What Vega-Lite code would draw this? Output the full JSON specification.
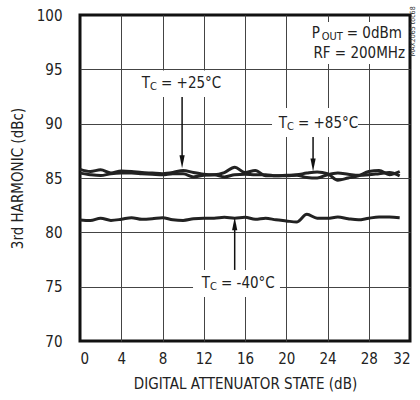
{
  "$schema": "https://vega.github.io/schema/vega-lite/v6.json",
  "width": 330,
  "height": 326,
  "autosize": {"type": "none"},
  "padding": {"left": 80, "top": 15, "right": 10, "bottom": 59},
  "background": "white",
  "config": {
    "view": {"stroke": "#111", "strokeWidth": 3},
    "font": "DejaVu Sans Condensed, Roboto, sans-serif",
    "text": {"font": "DejaVu Sans Condensed, Roboto, sans-serif"},
    "axis": {
      "labelFont": "DejaVu Sans Condensed, Roboto, sans-serif",
      "titleFont": "DejaVu Sans Condensed, Roboto, sans-serif",
      "labelFontSize": 15,
      "titleFontSize": 15,
      "titleFontWeight": "normal",
      "labelColor": "#222",
      "titleColor": "#222",
      "ticks": false,
      "domain": false,
      "gridOpacity": 1,
      "gridWidth": 1
    }
  },
  "datasets": {
    "curves": [
      {"x": 0, "y": 85.8, "s": "A"}, {"x": 1, "y": 85.6, "s": "A"}, {"x": 2, "y": 85.75, "s": "A"}, {"x": 3, "y": 85.45, "s": "A"},
      {"x": 4, "y": 85.65, "s": "A"}, {"x": 5, "y": 85.6, "s": "A"}, {"x": 6, "y": 85.5, "s": "A"}, {"x": 7, "y": 85.45, "s": "A"},
      {"x": 8, "y": 85.4, "s": "A"}, {"x": 9, "y": 85.5, "s": "A"}, {"x": 10, "y": 85.7, "s": "A"}, {"x": 11, "y": 85.5, "s": "A"},
      {"x": 12, "y": 85.35, "s": "A"}, {"x": 13, "y": 85.3, "s": "A"}, {"x": 14, "y": 85.5, "s": "A"}, {"x": 15, "y": 86.0, "s": "A"},
      {"x": 16, "y": 85.5, "s": "A"}, {"x": 17, "y": 85.7, "s": "A"}, {"x": 18, "y": 85.2, "s": "A"}, {"x": 19, "y": 85.2, "s": "A"},
      {"x": 20, "y": 85.25, "s": "A"}, {"x": 21, "y": 85.3, "s": "A"}, {"x": 22, "y": 85.45, "s": "A"}, {"x": 23, "y": 85.55, "s": "A"},
      {"x": 24, "y": 85.4, "s": "A"}, {"x": 25, "y": 84.8, "s": "A"}, {"x": 26, "y": 85.0, "s": "A"}, {"x": 27, "y": 85.2, "s": "A"},
      {"x": 28, "y": 85.6, "s": "A"}, {"x": 29, "y": 85.7, "s": "A"}, {"x": 30, "y": 85.3, "s": "A"}, {"x": 31, "y": 85.6, "s": "A"},
      {"x": 0, "y": 85.45, "s": "B"}, {"x": 1, "y": 85.3, "s": "B"}, {"x": 2, "y": 85.22, "s": "B"}, {"x": 3, "y": 85.4, "s": "B"},
      {"x": 4, "y": 85.45, "s": "B"}, {"x": 5, "y": 85.45, "s": "B"}, {"x": 6, "y": 85.4, "s": "B"}, {"x": 7, "y": 85.35, "s": "B"},
      {"x": 8, "y": 85.3, "s": "B"}, {"x": 9, "y": 85.4, "s": "B"}, {"x": 10, "y": 85.4, "s": "B"}, {"x": 11, "y": 85.1, "s": "B"},
      {"x": 12, "y": 85.25, "s": "B"}, {"x": 13, "y": 85.3, "s": "B"}, {"x": 14, "y": 85.1, "s": "B"}, {"x": 15, "y": 85.3, "s": "B"},
      {"x": 16, "y": 85.35, "s": "B"}, {"x": 17, "y": 85.3, "s": "B"}, {"x": 18, "y": 85.3, "s": "B"}, {"x": 19, "y": 85.2, "s": "B"},
      {"x": 20, "y": 85.2, "s": "B"}, {"x": 21, "y": 85.25, "s": "B"}, {"x": 22, "y": 85.05, "s": "B"}, {"x": 23, "y": 85.0, "s": "B"},
      {"x": 24, "y": 85.3, "s": "B"}, {"x": 25, "y": 85.45, "s": "B"}, {"x": 26, "y": 85.35, "s": "B"}, {"x": 27, "y": 85.25, "s": "B"},
      {"x": 28, "y": 85.3, "s": "B"}, {"x": 29, "y": 85.4, "s": "B"}, {"x": 30, "y": 85.5, "s": "B"}, {"x": 31, "y": 85.2, "s": "B"},
      {"x": 0, "y": 81.14, "s": "C"}, {"x": 1, "y": 81.08, "s": "C"}, {"x": 2, "y": 81.3, "s": "C"}, {"x": 3, "y": 81.1, "s": "C"},
      {"x": 4, "y": 81.2, "s": "C"}, {"x": 5, "y": 81.35, "s": "C"}, {"x": 6, "y": 81.2, "s": "C"}, {"x": 7, "y": 81.25, "s": "C"},
      {"x": 8, "y": 81.35, "s": "C"}, {"x": 9, "y": 81.15, "s": "C"}, {"x": 10, "y": 81.1, "s": "C"}, {"x": 11, "y": 81.25, "s": "C"},
      {"x": 12, "y": 81.3, "s": "C"}, {"x": 13, "y": 81.3, "s": "C"}, {"x": 14, "y": 81.38, "s": "C"}, {"x": 15, "y": 81.3, "s": "C"},
      {"x": 16, "y": 81.38, "s": "C"}, {"x": 17, "y": 81.2, "s": "C"}, {"x": 18, "y": 81.3, "s": "C"}, {"x": 19, "y": 81.15, "s": "C"},
      {"x": 20, "y": 81.05, "s": "C"}, {"x": 21, "y": 80.95, "s": "C"}, {"x": 22, "y": 81.66, "s": "C"}, {"x": 23, "y": 81.3, "s": "C"},
      {"x": 24, "y": 81.3, "s": "C"}, {"x": 25, "y": 81.4, "s": "C"}, {"x": 26, "y": 81.25, "s": "C"}, {"x": 27, "y": 81.15, "s": "C"},
      {"x": 28, "y": 81.3, "s": "C"}, {"x": 29, "y": 81.4, "s": "C"}, {"x": 30, "y": 81.4, "s": "C"}, {"x": 31, "y": 81.35, "s": "C"}
    ],
    "boxes": [
      {"x": 5.33, "x2": 13.96, "y": 94.9, "y2": 92.46},
      {"x": 18.62, "x2": 26.96, "y": 91.44, "y2": 88.78},
      {"x": 10.96, "x2": 19.39, "y": 76.54, "y2": 74.05},
      {"x": 21.8, "x2": 31.8, "y": 99.36, "y2": 95.5}
    ],
    "arrows": [
      {"x": 9.9, "y": 92.46, "y2": 86.8},
      {"x": 22.6, "y": 88.78, "y2": 86.5},
      {"x": 15.0, "y": 80.5, "y2": 76.54}
    ],
    "headsDown": [
      {"x": 9.9, "y": 86.5},
      {"x": 22.6, "y": 86.2}
    ],
    "headsUp": [
      {"x": 15.0, "y": 80.8}
    ],
    "tlabels": [
      {"x": 6.79, "y": 93.74, "rest": "= +25°C"},
      {"x": 20.07, "y": 90.1, "rest": "= +85°C"},
      {"x": 12.6, "y": 75.35, "rest": "= -40°C"}
    ],
    "pout": [
      {"x": 22.47, "y": 98.34}
    ],
    "rf": [
      {"x": 31.52, "y": 96.5, "t": "RF = 200MHz"}
    ],
    "side": [
      {"x": 32.3, "y": 98.5, "t": "MAX2065 toc68"}
    ]
  },
  "layer": [
    {
      "data": {"name": "boxes"},
      "mark": {"type": "rect", "fill": "white"},
      "encoding": {
        "x": {"field": "x", "type": "quantitative", "scale": {"domain": [0, 32], "nice": false},
          "axis": {"values": [0, 4, 8, 12, 16, 20, 24, 28, 32], "title": "DIGITAL ATTENUATOR STATE (dB)", "labelPadding": 10, "titlePadding": 10,
            "gridColor": {"condition": {"test": "datum.value == 0 || datum.value == 32", "value": "transparent"}, "value": "#444"}}},
        "x2": {"field": "x2"},
        "y": {"field": "y", "type": "quantitative", "scale": {"domain": [70, 100], "nice": false},
          "axis": {"values": [70, 75, 80, 85, 90, 95, 100], "title": "3rd HARMONIC (dBc)", "labelPadding": 18, "titlePadding": 11,
            "gridColor": {"condition": {"test": "datum.value == 70 || datum.value == 100", "value": "transparent"}, "value": "#444"}}},
        "y2": {"field": "y2"}
      }
    },
    {
      "data": {"name": "curves"},
      "mark": {"type": "line", "color": "#222", "strokeWidth": 3, "interpolate": "monotone"},
      "encoding": {
        "x": {"field": "x", "type": "quantitative"},
        "y": {"field": "y", "type": "quantitative"},
        "detail": {"field": "s"}
      }
    },
    {
      "data": {"name": "arrows"},
      "mark": {"type": "rule", "color": "#111", "strokeWidth": 1.5},
      "encoding": {
        "x": {"field": "x", "type": "quantitative"},
        "y": {"field": "y", "type": "quantitative"},
        "y2": {"field": "y2"}
      }
    },
    {
      "data": {"name": "headsDown"},
      "mark": {"type": "point", "shape": "M-0.4,-1L0.4,-1L0,1Z", "filled": true, "color": "#111", "opacity": 1, "size": 169},
      "encoding": {
        "x": {"field": "x", "type": "quantitative"},
        "y": {"field": "y", "type": "quantitative"}
      }
    },
    {
      "data": {"name": "headsUp"},
      "mark": {"type": "point", "shape": "M-0.4,1L0.4,1L0,-1Z", "filled": true, "color": "#111", "opacity": 1, "size": 169},
      "encoding": {
        "x": {"field": "x", "type": "quantitative"},
        "y": {"field": "y", "type": "quantitative"}
      }
    },
    {
      "data": {"name": "tlabels"},
      "mark": {"type": "text", "text": "T", "align": "right", "baseline": "middle", "fontSize": 15, "color": "#222"},
      "encoding": {
        "x": {"field": "x", "type": "quantitative"},
        "y": {"field": "y", "type": "quantitative"}
      }
    },
    {
      "data": {"name": "tlabels"},
      "mark": {"type": "text", "text": "C", "align": "left", "baseline": "middle", "fontSize": 11, "dy": 4, "color": "#222"},
      "encoding": {
        "x": {"field": "x", "type": "quantitative"},
        "y": {"field": "y", "type": "quantitative"}
      }
    },
    {
      "data": {"name": "tlabels"},
      "mark": {"type": "text", "align": "left", "baseline": "middle", "fontSize": 15, "dx": 11, "color": "#222"},
      "encoding": {
        "x": {"field": "x", "type": "quantitative"},
        "y": {"field": "y", "type": "quantitative"},
        "text": {"field": "rest"}
      }
    },
    {
      "data": {"name": "pout"},
      "mark": {"type": "text", "text": "P", "align": "left", "baseline": "middle", "fontSize": 15, "color": "#222"},
      "encoding": {
        "x": {"field": "x", "type": "quantitative"},
        "y": {"field": "y", "type": "quantitative"}
      }
    },
    {
      "data": {"name": "pout"},
      "mark": {"type": "text", "text": "OUT", "align": "left", "baseline": "middle", "fontSize": 11, "dx": 10, "dy": 4, "color": "#222"},
      "encoding": {
        "x": {"field": "x", "type": "quantitative"},
        "y": {"field": "y", "type": "quantitative"}
      }
    },
    {
      "data": {"name": "pout"},
      "mark": {"type": "text", "text": "= 0dBm", "align": "left", "baseline": "middle", "fontSize": 15, "dx": 35, "color": "#222"},
      "encoding": {
        "x": {"field": "x", "type": "quantitative"},
        "y": {"field": "y", "type": "quantitative"}
      }
    },
    {
      "data": {"name": "rf"},
      "mark": {"type": "text", "align": "right", "baseline": "middle", "fontSize": 15, "color": "#222"},
      "encoding": {
        "x": {"field": "x", "type": "quantitative"},
        "y": {"field": "y", "type": "quantitative"},
        "text": {"field": "t"}
      }
    },
    {
      "data": {"name": "side"},
      "mark": {"type": "text", "align": "center", "baseline": "middle", "fontSize": 7, "angle": 270, "color": "#333"},
      "encoding": {
        "x": {"field": "x", "type": "quantitative"},
        "y": {"field": "y", "type": "quantitative"},
        "text": {"field": "t"}
      }
    }
  ]
}
